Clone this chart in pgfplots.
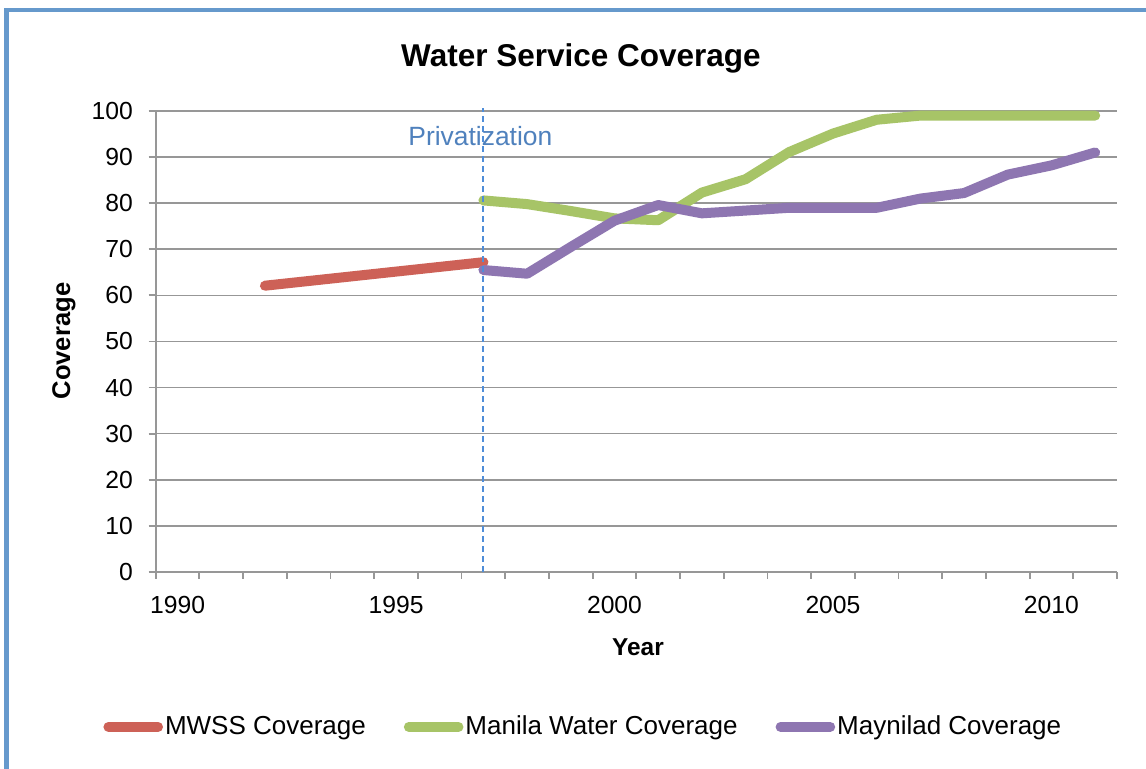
\documentclass[border=0pt]{standalone}
\usepackage{fontspec}
\setmainfont{Liberation Sans}
\usepackage{pgfplots}
\pgfplotsset{compat=1.18}
\definecolor{mwss}{HTML}{CD6157}
\definecolor{manila}{HTML}{A7C467}
\definecolor{maynilad}{HTML}{8E76B1}
\definecolor{gridgray}{HTML}{979797}
\definecolor{privblue}{HTML}{4F81BD}
\definecolor{dashblue}{HTML}{4F8DD8}
\definecolor{frameblue}{HTML}{6699CC}
\begin{document}
\begin{tikzpicture}
\path[use as bounding box] (0,0) rectangle (573pt,384.5pt);
\fill[white] (0,0) rectangle (573pt,384.5pt);
% frame
\draw[frameblue, line width=2.2pt] (3.25pt,0) -- (3.25pt,379.5pt) -- (573pt,379.5pt);
% title
\node[anchor=base, font=\fontsize{15.75}{18}\selectfont\bfseries] at (290.5pt,351.2pt) {Water Service Coverage};
\begin{axis}[
  at={(77.85pt,98.5pt)}, anchor=south west,
  scale only axis, width=480.65pt, height=230.5pt,
  xmin=1989.5, xmax=2011.5, ymin=0, ymax=100,
  axis lines=left,
  axis line style={-, draw=gridgray, line width=0.9pt},
  tick align=outside,
  xtick={1990,1995,2000,2005,2010},
  major x tick style={draw=none},
  minor xtick={1989.5,1990.5,...,2011.5},
  minor x tick style={draw=gridgray, line width=0.9pt},
  minor tick length=3.5pt,
  ytick={0,10,...,100},
  major y tick style={draw=gridgray, line width=0.9pt},
  major tick length=3.5pt,
  ymajorgrids,
  major grid style={draw=gridgray, line width=0.8pt},
  /pgf/number format/assume math mode=true,
  xticklabel={\pgfmathprintnumber[1000 sep={}]{\tick}},
  ticklabel style={font=\fontsize{12.35}{14}\selectfont},
  xticklabel style={yshift=-5.3pt},
  yticklabel style={xshift=-4.4pt},
  xlabel={Year},
  ylabel={Coverage},
  xlabel style={font=\fontsize{12.2}{14}\selectfont\bfseries, at={(axis description cs:0.5017,-0.1627)}, anchor=center},
  ylabel style={font=\fontsize{12.8}{14}\selectfont\bfseries, at={(axis description cs:-0.0954,0.501)}, anchor=center},
  clip=false,
  legend columns=3,
  legend style={at={(axis description cs:-0.0548,-0.336)}, anchor=west, draw=none, fill=none,
    font=\fontsize{13}{15}\selectfont, inner xsep=0pt, inner ysep=0pt,
    /tikz/every even column/.append style={column sep=18pt},
    nodes={inner xsep=1pt}},
  legend cell align=left,
  legend image code/.code={\draw[#1, line width=5pt, line cap=round] (2.5pt,0pt) -- (27.3pt,0pt);},
]
\addplot[mwss, line width=5pt, line cap=round, line join=round] coordinates {(1992,62.1) (1997,67.2)};
\addlegendentry{MWSS Coverage}
\addplot[manila, line width=5pt, line cap=round, line join=round] coordinates {
(1997,80.6) (1998,79.8) (1999,78.3) (2000,76.7) (2001,76.3) (2002,82.3) (2003,85.2) (2004,91.1) (2005,95.1) (2006,98.1) (2007,99.0) (2008,99.0) (2009,99.0) (2010,99.0) (2011,99.0)};
\addlegendentry{Manila Water Coverage}
\addplot[maynilad, line width=5pt, line cap=round, line join=round] coordinates {
(1997,65.5) (1998,64.7) (1999,70.5) (2000,76.2) (2001,79.6) (2002,77.8) (2003,78.4) (2004,79.0) (2005,79.0) (2006,79.0) (2007,81.0) (2008,82.2) (2009,86.2) (2010,88.2) (2011,91.0)};
\addlegendentry{Maynilad Coverage}
\draw[dashblue, line width=1pt, dash pattern=on 3.2pt off 1.8pt] (axis cs:1997,0) -- (axis cs:1997,100.7);
\node[privblue, font=\fontsize{13.2}{15}\selectfont] at (axis cs:1996.93,94.6) {Privatization};
\end{axis}
\end{tikzpicture}
\end{document}
